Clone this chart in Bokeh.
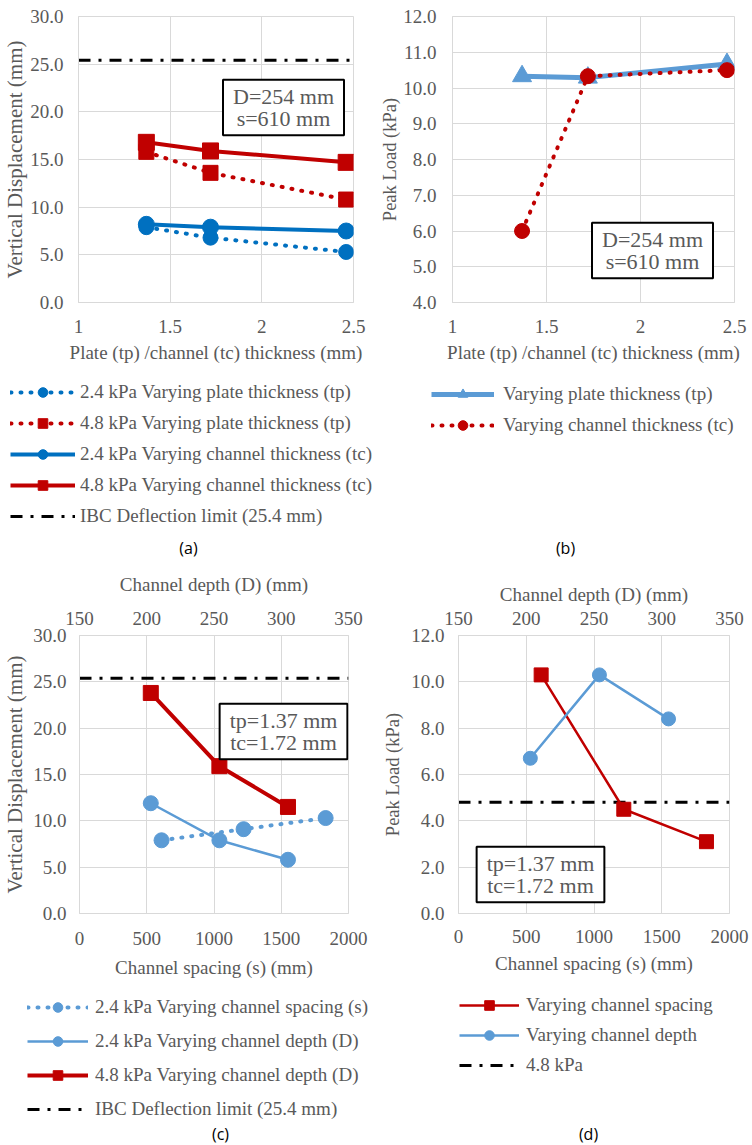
from bokeh.plotting import figure
from bokeh.models import (Range1d, LinearAxis, FixedTicker, PrintfTickFormatter,
                          Legend, LegendItem, Label)
from bokeh.layouts import row, column
from bokeh.embed import file_html
from bokeh.resources import INLINE

# ---------------- data ----------------
# (a) vertical displacement vs plate / channel thickness
a_thickness = [1.37, 1.72, 2.46]
a_disp_24_tp = [7.9, 6.8, 5.3]
a_disp_48_tp = [15.8, 13.6, 10.8]
a_disp_24_tc = [8.2, 7.9, 7.5]
a_disp_48_tc = [16.8, 15.9, 14.7]
ibc_limit = 25.4

# (b) peak load vs plate / channel thickness
b_thickness = [1.37, 1.72, 2.46]
b_load_tp = [10.33, 10.29, 10.67]
b_load_tc = [6.0, 10.33, 10.5]

# (c) vertical displacement vs channel spacing / depth
c_spacing = [610, 1220, 1830]
c_disp_24_s = [7.9, 9.1, 10.3]
c_depth = [203, 254, 305]
c_disp_24_D = [11.9, 7.9, 5.8]
c_disp_48_D = [23.8, 15.9, 11.5]

# (d) peak load vs channel spacing / depth
d_spacing = [610, 1220, 1830]
d_load_s = [10.3, 4.5, 3.1]
d_depth = [203, 254, 305]
d_load_D = [6.7, 10.3, 8.4]
load_48 = 4.8

thick_range = (1, 2.5)
spacing_range = (0, 2000)
depth_range = (150, 350)
thick_ticks = [1, 1.5, 2, 2.5]
spacing_ticks = [0, 500, 1000, 1500, 2000]
depth_ticks = [150, 200, 250, 300, 350]

# ---------------- style ----------------
SERIF = "Liberation Serif"
SANS = "Open Sans"
GRAY = "#595959"
GRID = "#D9D9D9"
RED = "#C00000"
BLUE = "#0070C0"
LBLUE = "#5B9BD5"
DOT = "1 9"
DASHDOT = "12 8 3 8"


def S(label, x, y, color, lw, dash="solid", marker=None, size=0, rng=None, z=1):
    return dict(label=label, x=x, y=y, color=color, lw=lw, dash=dash,
                marker=marker, size=size, rng=rng, z=z)


def draw_series(p, s, use_rng=True):
    kw = {}
    if s["rng"] and use_rng:
        kw["x_range_name"] = s["rng"]
    cap = "round" if s["dash"] == DOT else "butt"
    rs = [p.line(s["x"], s["y"], line_color=s["color"], line_width=s["lw"],
                 line_dash=s["dash"], line_cap=cap, **kw)]
    if s["marker"]:
        rs.append(p.scatter(s["x"], s["y"], marker=s["marker"], size=s["size"],
                            color=s["color"], **kw))
    return rs


def make_fig(w, h, xr, yr, left, right, top, bottom):
    p = figure(width=w, height=h, x_range=Range1d(*xr), y_range=Range1d(*yr),
               output_backend="svg", toolbar_location=None,
               min_border_left=left, min_border_right=right,
               min_border_top=top, min_border_bottom=bottom)
    p.outline_line_color = GRID
    p.grid.grid_line_color = GRID
    p.grid.grid_line_width = 1
    p.background_fill_color = "white"
    p.border_fill_color = "white"
    return p


def style_axis(ax, label, tick_standoff, label_standoff, title_size="19px"):
    ax.axis_label = label
    ax.axis_label_text_font = SERIF
    ax.axis_label_text_font_size = title_size
    ax.axis_label_text_font_style = "normal"
    ax.axis_label_text_color = GRAY
    ax.major_label_text_font = SERIF
    ax.major_label_text_font_size = "19px"
    ax.major_label_text_color = GRAY
    ax.major_tick_line_color = None
    ax.minor_tick_line_color = None
    ax.major_tick_out = 0
    ax.major_tick_in = 0
    ax.minor_tick_out = 0
    ax.minor_tick_in = 0
    ax.axis_line_color = GRID
    ax.major_label_standoff = tick_standoff
    ax.axis_label_standoff = label_standoff


def add_box(p, text, x, y):
    p.add_layout(Label(x=x, y=y, x_units="screen", y_units="screen", text=text,
                       text_font=SERIF, text_font_size="22px", text_color=GRAY,
                       text_align="center", text_baseline="middle", text_line_height=0.9,
                       border_line_color="black", border_line_width=2,
                       background_fill_color="white", padding=(10, 4)))


def legend_fig(h, series, x, y, glyph_w, spacing, standoff, tag, tag_x, tag_y):
    f = figure(width=376, height=h, x_range=Range1d(-200, -100), y_range=Range1d(-200, -100),
               x_axis_type=None, y_axis_type=None, output_backend="svg",
               toolbar_location=None, min_border=0)
    f.outline_line_color = None
    f.background_fill_color = "white"
    f.border_fill_color = "white"
    items = [LegendItem(label=s["label"], renderers=draw_series(f, s, False)) for s in series]
    f.add_layout(Legend(items=items, location=(x, y), orientation="vertical",
                        glyph_width=glyph_w, glyph_height=24, label_height=24,
                        spacing=spacing, padding=0, margin=0, label_standoff=standoff,
                        border_line_color=None, background_fill_alpha=0,
                        label_text_font=SERIF, label_text_font_size="19px",
                        label_text_color=GRAY))
    f.add_layout(Label(x=tag_x, y=tag_y, x_units="screen", y_units="screen", text=tag,
                       text_font=SANS, text_font_size="16px", text_color="black",
                       text_align="center", text_baseline="middle"))
    return f


def chart(p, series):
    for s in sorted(series, key=lambda s: s["z"]):
        draw_series(p, s)


# ---------------- (a) ----------------
a_series = [
    S("2.4 kPa Varying plate thickness (tp)", a_thickness, a_disp_24_tp, BLUE, 4, DOT, "circle", 15),
    S("4.8 kPa Varying plate thickness (tp)", a_thickness, a_disp_48_tp, RED, 4, DOT, "square", 15),
    S("2.4 kPa Varying channel thickness (tc)", a_thickness, a_disp_24_tc, BLUE, 4, "solid", "circle", 16),
    S("4.8 kPa Varying channel thickness (tc)", a_thickness, a_disp_48_tc, RED, 4, "solid", "square", 16),
    S("IBC Deflection limit (25.4 mm)", list(thick_range), [ibc_limit, ibc_limit], "black", 3, DASHDOT),
]
pa = make_fig(376, 380, thick_range, (0, 30), 76, 23, 16, 78)
style_axis(pa.xaxis[0], "Plate (tp) /channel (tc) thickness (mm)", 17, 6)
style_axis(pa.yaxis[0], "Vertical Displacement (mm)", 15, 0, "21px")
pa.xaxis[0].ticker = FixedTicker(ticks=thick_ticks)
pa.yaxis[0].ticker = FixedTicker(ticks=[0, 5, 10, 15, 20, 25, 30])
pa.yaxis[0].formatter = PrintfTickFormatter(format="%.1f")
chart(pa, a_series)
add_box(pa, "D=254 mm\ns=610 mm", 205, 195)
la = legend_fig(180, a_series, 10, 32, 65, 7, 5, "(a)", 188, 13)

# ---------------- (b) ----------------
b_series = [
    S("Varying plate thickness (tp)", b_thickness, b_load_tp, LBLUE, 5, "solid", "triangle", 19),
    S("Varying channel thickness (tc)", b_thickness, b_load_tc, RED, 4, DOT, "circle", 15),
]
pb = make_fig(376, 380, thick_range, (4, 12), 76, 18, 16, 78)
style_axis(pb.xaxis[0], "Plate (tp) /channel (tc) thickness (mm)", 17, 6)
style_axis(pb.yaxis[0], "Peak Load (kPa)", 16, 0, "18.5px")
pb.xaxis[0].ticker = FixedTicker(ticks=thick_ticks)
pb.yaxis[0].ticker = FixedTicker(ticks=[4, 5, 6, 7, 8, 9, 10, 11, 12])
pb.yaxis[0].formatter = PrintfTickFormatter(format="%.1f")
chart(pb, b_series)
add_box(pb, "D=254 mm\ns=610 mm", 200, 52)
lb = legend_fig(180, b_series, 55, 123, 63, 7, 9, "(b)", 189, 13)

# ---------------- (c) ----------------
c_series = [
    S("2.4 kPa Varying channel spacing (s)", c_spacing, c_disp_24_s, LBLUE, 4, DOT, "circle", 15),
    S("2.4 kPa Varying channel depth (D)", c_depth, c_disp_24_D, LBLUE, 2.5, "solid", "circle", 15, "D"),
    S("4.8 kPa Varying channel depth (D)", c_depth, c_disp_48_D, RED, 4, "solid", "square", 15, "D"),
    S("IBC Deflection limit (25.4 mm)", list(spacing_range), [ibc_limit, ibc_limit], "black", 3, DASHDOT),
]
pc = make_fig(376, 435, spacing_range, (0, 30), 78, 28, 75, 82)
pc.extra_x_ranges = {"D": Range1d(*depth_range)}
style_axis(pc.xaxis[0], "Channel spacing (s) (mm)", 18, 9)
style_axis(pc.yaxis[0], "Vertical Displacement (mm)", 13, 3, "21px")
pc.xaxis[0].ticker = FixedTicker(ticks=spacing_ticks)
pc.yaxis[0].ticker = FixedTicker(ticks=[0, 5, 10, 15, 20, 25, 30])
pc.yaxis[0].formatter = PrintfTickFormatter(format="%.1f")
pc_top = LinearAxis(x_range_name="D", ticker=FixedTicker(ticks=depth_ticks))
style_axis(pc_top, "Channel depth (D) (mm)", 11, 14)
pc.add_layout(pc_top, "above")
chart(pc, c_series)
add_box(pc, "tp=1.37 mm\ntc=1.72 mm", 204, 182)
lc = legend_fig(150, c_series, 27, 24, 61, 10, 7, "(c)", 220, 12)

# ---------------- (d) ----------------
d_series = [
    S("Varying channel spacing", d_spacing, d_load_s, RED, 2.5, "solid", "square", 14),
    S("Varying channel depth", d_depth, d_load_D, LBLUE, 2.5, "solid", "circle", 14, "D"),
    S("4.8 kPa", list(spacing_range), [load_48, load_48], "black", 3, DASHDOT, z=0),
]
pd_ = make_fig(376, 435, spacing_range, (0, 12), 82, 23, 75, 82)
pd_.extra_x_ranges = {"D": Range1d(*depth_range)}
style_axis(pd_.xaxis[0], "Channel spacing (s) (mm)", 16, 7)
style_axis(pd_.yaxis[0], "Peak Load (kPa)", 14, 5, "18.5px")
pd_.xaxis[0].ticker = FixedTicker(ticks=spacing_ticks)
pd_.yaxis[0].ticker = FixedTicker(ticks=[0, 2, 4, 6, 8, 10, 12])
pd_.yaxis[0].formatter = PrintfTickFormatter(format="%.1f")
pd_top = LinearAxis(x_range_name="D", ticker=FixedTicker(ticks=depth_ticks))
style_axis(pd_top, "Channel depth (D) (mm)", 11, 4)
pd_.add_layout(pd_top, "above")
chart(pd_, d_series)
add_box(pd_, "tp=1.37 mm\ntc=1.72 mm", 82, 39)
ld = legend_fig(150, d_series, 83, 68, 60, 6, 7, "(d)", 212, 12)

layout = column(row(pa, pb, spacing=0), row(la, lb, spacing=0),
                row(pc, pd_, spacing=0), row(lc, ld, spacing=0), spacing=0)
open("out.html", "w").write(file_html(layout, INLINE))
